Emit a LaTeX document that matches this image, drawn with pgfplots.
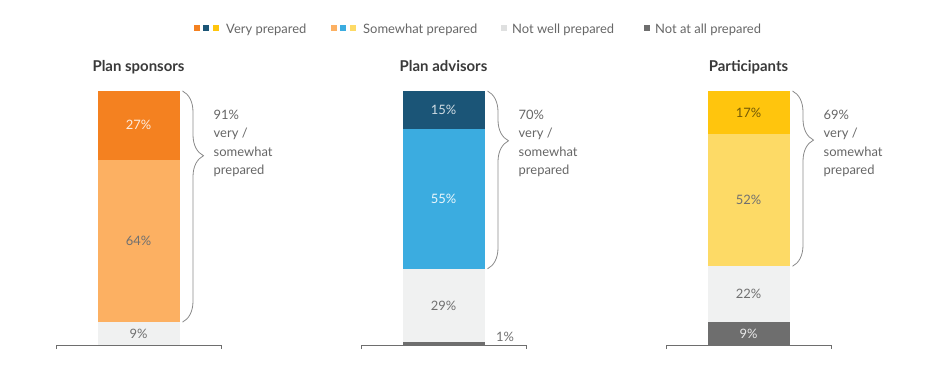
\documentclass[border=0pt]{standalone}
\usepackage{pgfplots}
\pgfplotsset{compat=1.18}
\usepackage{fontspec}
\setmainfont{Lato}
\usetikzlibrary{decorations.pathreplacing}
\definecolor{spvery}{HTML}{F48120}
\definecolor{spsome}{HTML}{FCB062}
\definecolor{advvery}{HTML}{1B5577}
\definecolor{advsome}{HTML}{3BACE0}
\definecolor{parvery}{HTML}{FFC50D}
\definecolor{parsome}{HTML}{FDDA66}
\definecolor{notwell}{HTML}{F0F1F1}
\definecolor{notall}{HTML}{6E6E6E}
\definecolor{bracec}{HTML}{8A8A8A}
\definecolor{anntext}{HTML}{666666}
\definecolor{titlec}{HTML}{3A3A3A}
\definecolor{labgray}{HTML}{707070}
\definecolor{basec}{HTML}{6E6E6E}
\pgfplotsset{
  panel/.style={
    anchor=south west, scale only axis, width=165bp, height=254bp,
    xmin=-1, xmax=1, ymin=0, ymax=100, axis lines=none, clip=false,
    ybar stacked, bar width=82bp,
    /pgf/number format/assume math mode=true,
    nodes near coords={\pgfmathprintnumber{\pgfplotspointmeta}\%},
    every node near coord/.append style={font=\fontsize{13}{15}\selectfont,
      anchor=center},
  },
  lab/.style={every node near coord/.append style={text=#1}},
}
\newcommand{\panelextras}[3]{%
  \draw[basec, line width=0.9bp] ([yshift=-4bp]rel axis cs:0,0) -- (rel axis cs:0,0)
     -- (rel axis cs:1,0) -- ([yshift=-4bp]rel axis cs:1,0);
  \node[anchor=base, font=\bfseries\fontsize{15}{18}\selectfont, text=titlec, inner sep=0pt]
     at ([yshift=19bp]axis cs:0,100) {#1};
  \draw[bracec, line width=0.8bp, decorate, decoration={brace, amplitude=21bp, aspect=0.28}]
     ([xshift=44bp]axis cs:0,100) -- ([xshift=44bp]axis cs:0,#2);
  \node[anchor=base west, align=left, font=\fontsize{13}{18.4}\selectfont, text=anntext, inner sep=0pt]
     at ([xshift=75bp]axis cs:0,67.1) {#3\%\\very /\\somewhat\\prepared};
}
\begin{document}
\begin{tikzpicture}
\path (0,0) rectangle (938bp,371bp);
% legend
\begin{scope}[font=\fontsize{13}{15}\selectfont]
\fill[spvery] (194bp,340bp) rectangle ++(6bp,6bp);
\fill[advvery] (203.3bp,340bp) rectangle ++(6bp,6bp);
\fill[parvery] (212.6bp,340bp) rectangle ++(6bp,6bp);
\node[anchor=base west, inner sep=0pt, text=anntext] at (226bp,337bp) {Very prepared};
\fill[spsome] (331bp,340bp) rectangle ++(6bp,6bp);
\fill[advsome] (340.3bp,340bp) rectangle ++(6bp,6bp);
\fill[parsome] (349.6bp,340bp) rectangle ++(6bp,6bp);
\node[anchor=base west, inner sep=0pt, text=anntext] at (363bp,337bp) {Somewhat prepared};
\fill[notwell!85!gray] (501bp,340bp) rectangle ++(6bp,6bp);
\node[anchor=base west, inner sep=0pt, text=anntext] at (512bp,337bp) {Not well prepared};
\fill[notall] (644bp,340bp) rectangle ++(6bp,6bp);
\node[anchor=base west, inner sep=0pt, text=anntext] at (655bp,337bp) {Not at all prepared};
\end{scope}

% Plan sponsors
\begin{axis}[panel, at={(56bp,26bp)}]
\addplot[fill=notwell, draw=none, lab=labgray] coordinates {(0,9)};
\addplot[fill=spsome, draw=none, lab=labgray] coordinates {(0,64)};
\addplot[fill=spvery, draw=none, lab={white!85!spvery}] coordinates {(0,27)};
\panelextras{Plan sponsors}{9}{91}
\end{axis}

% Plan advisors
\begin{axis}[panel, at={(361bp,26bp)}]
\addplot[fill=notall, draw=none, lab=labgray,
  every node near coord/.append style={anchor=west, xshift=49bp, yshift=6.7bp}] coordinates {(0,1)};
\addplot[fill=notwell, draw=none, lab=labgray] coordinates {(0,29)};
\addplot[fill=advsome, draw=none, lab={white!90!advsome}] coordinates {(0,55)};
\addplot[fill=advvery, draw=none, lab={white!80!advvery}] coordinates {(0,15)};
\panelextras{Plan advisors}{30}{70}
\end{axis}

% Participants
\begin{axis}[panel, at={(666bp,26bp)}]
\addplot[fill=notall, draw=none, lab={white!85!notall}] coordinates {(0,9)};
\addplot[fill=notwell, draw=none, lab=labgray] coordinates {(0,22)};
\addplot[fill=parsome, draw=none, lab={labgray}] coordinates {(0,52)};
\addplot[fill=parvery, draw=none, lab={black!55!parvery}] coordinates {(0,17)};
\panelextras{Participants}{31}{69}
\end{axis}
\end{tikzpicture}
\end{document}
